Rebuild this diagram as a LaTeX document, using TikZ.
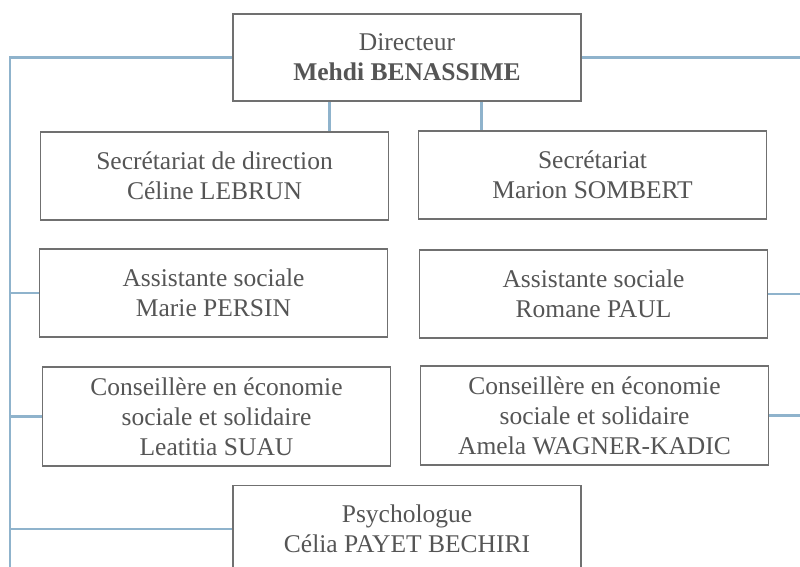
\documentclass[tikz,border=0pt]{standalone}
\usepackage{fontspec}
\setmainfont{Liberation Serif}
\usepackage{tikz}
\usetikzlibrary{positioning}
\definecolor{linkblue}{HTML}{8FB3CC}
\definecolor{boxgray}{HTML}{707070}
\definecolor{txtgray}{HTML}{555555}
\tikzset{
  post/.style={draw=boxgray, line width=1.6pt, fill=white, align=center,
    text=txtgray, font=\fontsize{25.5}{30}\selectfont,
    minimum width=348pt, minimum height=88pt, inner sep=0pt},
  link/.style={draw=linkblue, line width=2.6pt}
}
\begin{document}
\begin{tikzpicture}[x=1pt, y=-1pt]
        \useasboundingbox (0,0) rectangle (800,567);

        % Nodes
        \node[post, minimum height=87pt] (dir) at (407, 57.5) {Directeur\\\textbf{Mehdi BENASSIME}};
        \node[post] (secdir) at (214.5, 176) {Secrétariat de direction\\Céline LEBRUN};
        \node[post] (sec) at (592.5, 175) {Secrétariat\\Marion SOMBERT};
        \node[post] (as1) at (213.5, 293) {Assistante sociale\\Marie PERSIN};
        \node[post] (as2) at (593.5, 294) {Assistante sociale\\Romane PAUL};
        \node[post, minimum height=99pt] (cesf1) at (216.5, 416.5) {Conseillère en économie\\sociale et solidaire\\Leatitia SUAU};
        \node[post, minimum height=99pt] (cesf2) at (594.5, 415.5) {Conseillère en économie\\sociale et solidaire\\Amela WAGNER-KADIC};
        \node[post, minimum height=87pt] (psy) at (407, 529) {Psychologue\\Célia PAYET BECHIRI};

        % Trunks
        \coordinate (ltrunk) at (10, 567);
        \coordinate (rside) at (800, 0);

        % Connectors
        \draw[link] (dir.west) -| (ltrunk);
        \draw[link] (dir.east) -- (dir.east -| rside);
        \draw[link] ([xshift=-60pt]secdir.north east) -- ([xshift=-60pt]secdir.north east |- dir.south);
        \draw[link] ([xshift=64pt]sec.north west) -- ([xshift=64pt]sec.north west |- dir.south);
        \draw[link] (as1.west) -- (as1.west -| ltrunk);
        \draw[link] (cesf1.west) -- (cesf1.west -| ltrunk);
        \draw[link] (psy.west) -- (psy.west -| ltrunk);
        \draw[link] (as2.east) -- (as2.east -| rside);
        \draw[link] (cesf2.east) -- (cesf2.east -| rside);
    \end{tikzpicture}
\end{document}
